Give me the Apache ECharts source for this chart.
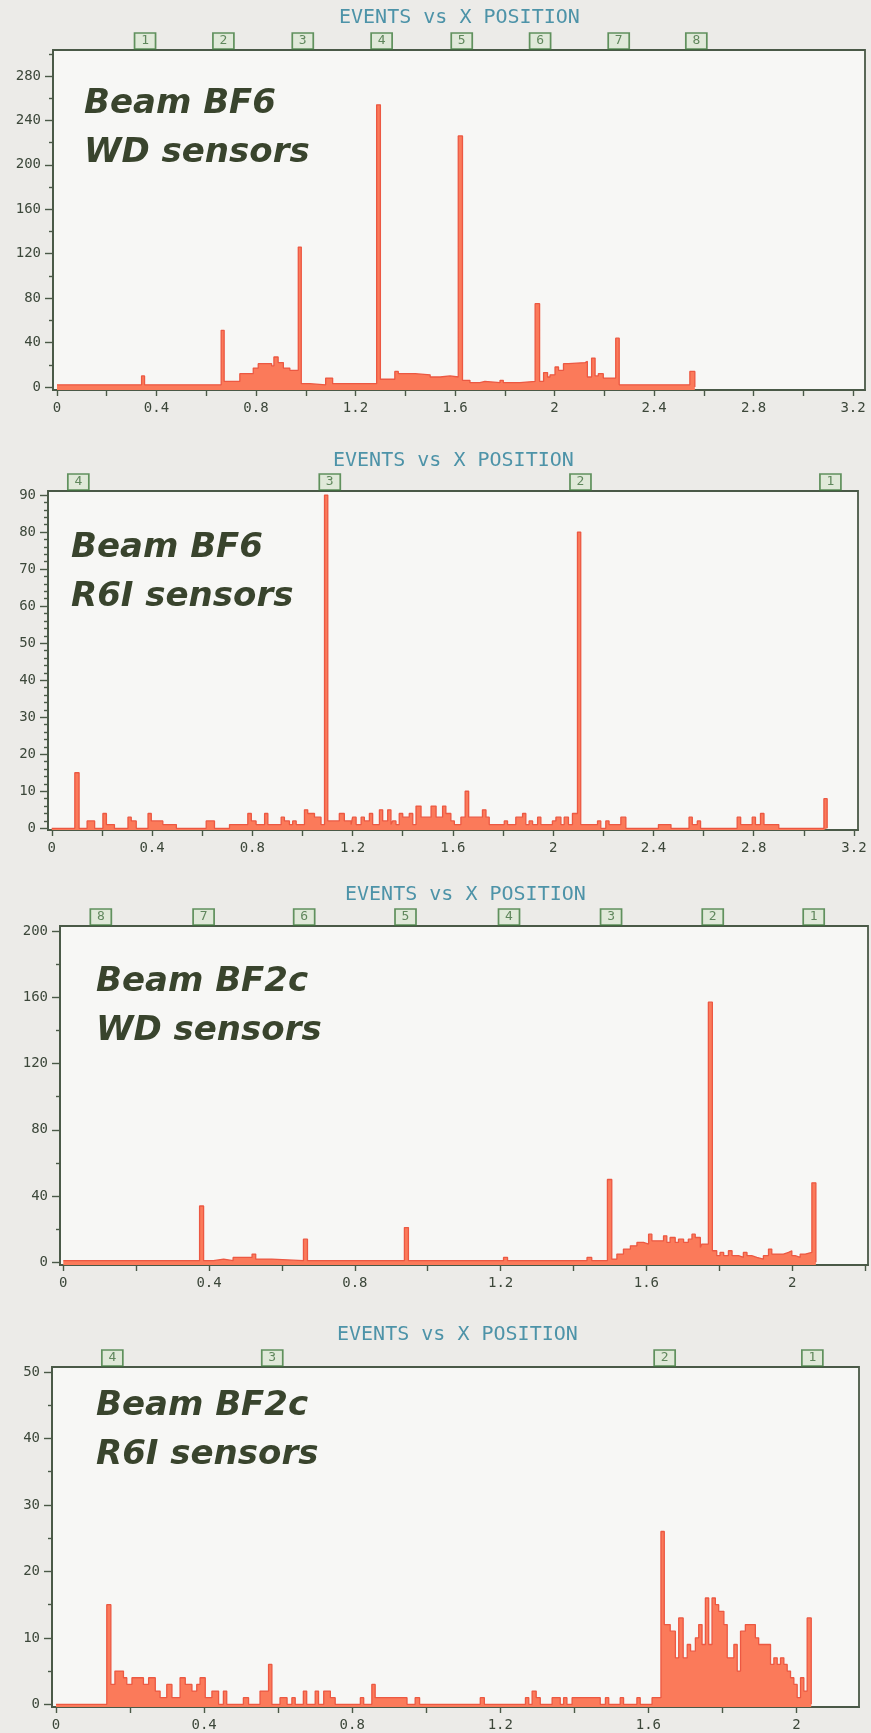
<!DOCTYPE html>
<html>
<head>
<meta charset="utf-8">
<script src="https://cdn.jsdelivr.net/npm/echarts@6/dist/echarts.min.js"></script>
<style>
  html, body { margin: 0; padding: 0; background: #ecebe8; }
  #chart { width: 871px; height: 1733px; }
</style>
</head>
<body>
<div id="chart"></div>
<script>
// ---- Histogram data: each edge starts a bin run; the count holds until the next edge ----

// Beam BF6, WD sensors
const bf6WdEdges = [0.000, 0.340, 0.352, 0.660, 0.672, 0.735, 0.789, 0.809, 0.863, 0.872, 0.889, 0.910, 0.936, 0.970, 0.982,
  1.017, 1.080, 1.108, 1.285, 1.300, 1.358, 1.372, 1.440, 1.500, 1.540, 1.580, 1.613, 1.630, 1.660, 1.700, 1.720, 1.781, 1.794,
  1.861, 1.922, 1.940, 1.956, 1.972, 1.982, 2.002, 2.016, 2.036, 2.056, 2.123, 2.132, 2.149, 2.163, 2.176, 2.196, 2.246, 2.260,
  2.544, 2.564];
const bf6WdCounts = [2, 10, 2, 51, 5, 12, 17, 21, 19, 27, 22, 17, 15, 126, 3,
  2, 8, 3, 254, 7, 14, 12, 11, 9, 10, 9, 226, 6, 4, 5, 4, 6, 4,
  5, 75, 5, 13, 9, 11, 18, 15, 21, 22, 23, 9, 26, 10, 12, 8, 44, 2,
  14, 0];

// Beam BF6, R6I sensors
const bf6R6iEdges = [0.000, 0.092, 0.109, 0.141, 0.171, 0.204, 0.218, 0.250, 0.304, 0.317, 0.337, 0.384, 0.397, 0.443, 0.497,
  0.616, 0.649, 0.709, 0.782, 0.796, 0.815, 0.849, 0.862, 0.915, 0.928, 0.948, 0.961, 0.975, 1.008, 1.021, 1.048, 1.074,
  1.088, 1.101, 1.147, 1.167, 1.194, 1.200, 1.214, 1.234, 1.247, 1.267, 1.280, 1.307, 1.320, 1.340, 1.353, 1.360, 1.373,
  1.386, 1.400, 1.426, 1.440, 1.453, 1.473, 1.513, 1.533, 1.559, 1.572, 1.592, 1.606, 1.632, 1.649, 1.663, 1.718, 1.732,
  1.745, 1.805, 1.818, 1.851, 1.878, 1.891, 1.904, 1.918, 1.938, 1.951, 1.997, 2.011, 2.031, 2.044, 2.061, 2.077, 2.097,
  2.110, 2.177, 2.190, 2.210, 2.223, 2.270, 2.290, 2.420, 2.470, 2.542, 2.555, 2.575, 2.588, 2.734, 2.748, 2.794, 2.807,
  2.827, 2.841, 2.900, 3.080, 3.093];
const bf6R6iCounts = [0, 15, 0, 2, 0, 4, 1, 0, 3, 2, 0, 4, 2, 1, 0,
  2, 0, 1, 4, 2, 1, 4, 1, 3, 2, 1, 2, 1, 5, 4, 3, 1,
  90, 2, 4, 2, 1, 3, 1, 3, 2, 4, 1, 5, 2, 5, 1, 2, 1,
  4, 3, 4, 1, 6, 3, 6, 3, 6, 4, 2, 1, 3, 10, 3, 5, 3,
  1, 2, 1, 3, 4, 1, 2, 1, 3, 1, 2, 3, 1, 3, 1, 4, 80,
  1, 2, 0, 2, 1, 3, 0, 1, 0, 3, 1, 2, 0, 3, 1, 3, 1,
  4, 1, 0, 8, 0];

// Beam BF2c, WD sensors
const bf2cWdEdges = [0.000, 0.374, 0.385, 0.412, 0.440, 0.466, 0.518, 0.528, 0.572, 0.659, 0.670, 0.936, 0.947, 1.208, 1.219,
  1.437, 1.450, 1.493, 1.505, 1.519, 1.537, 1.556, 1.574, 1.592, 1.606, 1.615, 1.647, 1.656, 1.665, 1.679, 1.688, 1.702,
  1.715, 1.725, 1.734, 1.748, 1.752, 1.770, 1.781, 1.793, 1.802, 1.812, 1.825, 1.835, 1.853, 1.866, 1.876, 1.889, 1.903,
  1.921, 1.935, 1.944, 1.976, 1.990, 1.999, 2.008, 2.022, 2.036, 2.054, 2.065];
const bf2cWdCounts = [1, 34, 1, 2, 1, 3, 5, 2, 1, 14, 1, 21, 1, 3, 1,
  3, 1, 50, 2, 5, 8, 10, 12, 11, 17, 13, 16, 12, 15, 12, 14, 12,
  14, 17, 15, 9, 11, 157, 7, 4, 6, 4, 7, 4, 3, 6, 4, 3, 2,
  4, 8, 5, 6, 7, 4, 3, 5, 6, 48, 0];

// Beam BF2c, R6I sensors
const bf2cR6iEdges = [0.000, 0.137, 0.148, 0.159, 0.182, 0.191, 0.205, 0.236, 0.250, 0.268, 0.281, 0.299, 0.313, 0.335, 0.349,
  0.367, 0.380, 0.389, 0.403, 0.421, 0.439, 0.452, 0.461, 0.506, 0.520, 0.551, 0.574, 0.583, 0.605, 0.624, 0.637, 0.646,
  0.668, 0.677, 0.700, 0.709, 0.723, 0.741, 0.754, 0.822, 0.831, 0.853, 0.862, 0.948, 0.970, 0.982, 1.146, 1.157, 1.268,
  1.277, 1.286, 1.297, 1.308, 1.340, 1.362, 1.371, 1.380, 1.394, 1.470, 1.484, 1.493, 1.524, 1.533, 1.569, 1.578, 1.610,
  1.634, 1.643, 1.659, 1.673, 1.682, 1.694, 1.705, 1.714, 1.727, 1.736, 1.745, 1.754, 1.763, 1.772, 1.781, 1.790, 1.804,
  1.813, 1.831, 1.840, 1.849, 1.862, 1.889, 1.898, 1.930, 1.939, 1.948, 1.957, 1.966, 1.975, 1.984, 1.993, 2.002, 2.011,
  2.020, 2.029, 2.040];
const bf2cR6iCounts = [0, 15, 3, 5, 4, 3, 4, 3, 4, 2, 1, 3, 1, 4, 3,
  2, 3, 4, 1, 2, 0, 2, 0, 1, 0, 2, 6, 0, 1, 0, 1, 0,
  2, 0, 2, 0, 2, 1, 0, 1, 0, 3, 1, 0, 1, 0, 1, 0, 1,
  0, 2, 1, 0, 1, 0, 1, 0, 1, 0, 1, 0, 1, 0, 1, 0, 1,
  26, 12, 11, 7, 13, 7, 9, 8, 10, 12, 9, 16, 9, 16, 15, 14, 12,
  7, 9, 5, 11, 12, 10, 9, 6, 7, 6, 7, 6, 5, 4, 3, 1, 4,
  2, 13, 0];

// ---- Sensor markers along the top of each frame ----
const bf6WdSensorX = [0.354, 0.669, 0.988, 1.305, 1.627, 1.942, 2.258, 2.570];
const bf6WdSensorIds = ['1', '2', '3', '4', '5', '6', '7', '8'];
const bf6R6iSensorX = [0.106, 1.109, 2.109, 3.106];
const bf6R6iSensorIds = ['4', '3', '2', '1'];
const bf2cWdSensorX = [0.103, 0.385, 0.661, 0.939, 1.223, 1.503, 1.782, 2.059];
const bf2cWdSensorIds = ['8', '7', '6', '5', '4', '3', '2', '1'];
const bf2cR6iSensorX = [0.152, 0.584, 1.644, 2.043];
const bf2cR6iSensorIds = ['4', '3', '2', '1'];

// ---- Tick and label values ----
const xTicksLong = [0, 0.2, 0.4, 0.6, 0.8, 1.0, 1.2, 1.4, 1.6, 1.8, 2.0, 2.2, 2.4, 2.6, 2.8, 3.0, 3.2];
const xLabelsLong = [0, 0.4, 0.8, 1.2, 1.6, 2, 2.4, 2.8, 3.2];
const xTicksShortWd = [0, 0.2, 0.4, 0.6, 0.8, 1.0, 1.2, 1.4, 1.6, 1.8, 2.0, 2.2];
const xTicksShortR6i = [0, 0.2, 0.4, 0.6, 0.8, 1.0, 1.2, 1.4, 1.6, 1.8, 2.0];
const xLabelsShort = [0, 0.4, 0.8, 1.2, 1.6, 2];

const bf6WdYLabels = [0, 40, 80, 120, 160, 200, 240, 280];
const bf6WdYMinor = [20, 60, 100, 140, 180, 220, 260, 300];
const bf6R6iYLabels = [0, 10, 20, 30, 40, 50, 60, 70, 80, 90];
const bf6R6iYMinor = [2, 4, 6, 8, 12, 14, 16, 18, 22, 24, 26, 28, 32, 34, 36, 38, 42, 44, 46, 48,
  52, 54, 56, 58, 62, 64, 66, 68, 72, 74, 76, 78, 82, 84, 86, 88];
const bf2cWdYLabels = [0, 40, 80, 120, 160, 200];
const bf2cWdYMinor = [20, 60, 100, 140, 180];
const bf2cR6iYLabels = [0, 10, 20, 30, 40, 50];
const bf2cR6iYMinor = [5, 15, 25, 35, 45];

const plotTitle = 'EVENTS vs X POSITION';
const panelCaptions = ['Beam BF6\nWD sensors', 'Beam BF6\nR6I sensors', 'Beam BF2c\nWD sensors', 'Beam BF2c\nR6I sensors'];

// ---- Panel layout (frame placement in pixels and axis extents) ----
const panels = [
  { edges: bf6WdEdges, counts: bf6WdCounts, sx: bf6WdSensorX, sid: bf6WdSensorIds,
    xTicks: xTicksLong, xLabels: xLabelsLong, yLabels: bf6WdYLabels, yMinor: bf6WdYMinor,
    box: { left: 53, top: 50, width: 812, height: 340 }, x: [-0.016, 3.248], y: [-2.7, 303.4],
    titleLeft: 339, titleTop: 8, capLeft: 84, capTop: 80 },
  { edges: bf6R6iEdges, counts: bf6R6iCounts, sx: bf6R6iSensorX, sid: bf6R6iSensorIds,
    xTicks: xTicksLong, xLabels: xLabelsLong, yLabels: bf6R6iYLabels, yMinor: bf6R6iYMinor,
    box: { left: 48, top: 491, width: 810, height: 339 }, x: [-0.015, 3.216], y: [-0.46, 91.1],
    titleLeft: 333, titleTop: 451, capLeft: 71, capTop: 524 },
  { edges: bf2cWdEdges, counts: bf2cWdCounts, sx: bf2cWdSensorX, sid: bf2cWdSensorIds,
    xTicks: xTicksShortWd, xLabels: xLabelsShort, yLabels: bf2cWdYLabels, yMinor: bf2cWdYMinor,
    box: { left: 60, top: 926, width: 808, height: 339 }, x: [-0.009, 2.208], y: [-1.6, 203],
    titleLeft: 345, titleTop: 885, capLeft: 96, capTop: 958 },
  { edges: bf2cR6iEdges, counts: bf2cR6iCounts, sx: bf2cR6iSensorX, sid: bf2cR6iSensorIds,
    xTicks: xTicksShortR6i, xLabels: xLabelsShort, yLabels: bf2cR6iYLabels, yMinor: bf2cR6iYMinor,
    box: { left: 52, top: 1367, width: 807, height: 340 }, x: [-0.011, 2.169], y: [-0.4, 50.75],
    titleLeft: 337, titleTop: 1325, capLeft: 96, capTop: 1382 }
];

const frameColor = '#4a5947';
const labelColor = '#3c473a';
const monoFont = '"DejaVu Sans Mono", "Liberation Mono", monospace';

const grids = [], xAxes = [], yAxes = [], series = [], titles = [];

panels.forEach((p, i) => {
  grids.push(Object.assign({
    show: true, backgroundColor: '#f7f7f5', borderColor: frameColor, borderWidth: 1.8
  }, p.box));

  xAxes.push({
    gridIndex: i, type: 'value', min: p.x[0], max: p.x[1],
    axisLine: { show: true, onZero: false, lineStyle: { color: frameColor, width: 1.8 } },
    axisTick: { show: true, customValues: p.xTicks, length: 6, lineStyle: { color: frameColor, width: 1.4 } },
    axisLabel: { customValues: p.xLabels, margin: 11, color: labelColor, fontFamily: monoFont, fontSize: 14,
      formatter: v => String(v) },
    splitLine: { show: false }
  });

  // Labelled major ticks
  yAxes.push({
    gridIndex: i, type: 'value', position: 'left', min: p.y[0], max: p.y[1],
    axisLine: { show: true, onZero: false, lineStyle: { color: frameColor, width: 1.8 } },
    axisTick: { show: true, customValues: p.yLabels, length: 8, lineStyle: { color: frameColor, width: 1.4 } },
    axisLabel: { customValues: p.yLabels, margin: 12, color: labelColor, fontFamily: monoFont, fontSize: 14 },
    splitLine: { show: false }
  });
  // Short unlabelled ticks in between
  yAxes.push({
    gridIndex: i, type: 'value', position: 'left', min: p.y[0], max: p.y[1],
    axisLine: { show: false, onZero: false },
    axisTick: { show: true, customValues: p.yMinor, length: 4, lineStyle: { color: frameColor, width: 1.4 } },
    axisLabel: { show: false },
    splitLine: { show: false }
  });

  const pts = p.edges.map((x, k) => [x, p.counts[k]]);
  series.push({
    type: 'line', xAxisIndex: i, yAxisIndex: 2 * i, data: pts, step: 'end',
    symbol: 'none', showSymbol: false, silent: true, clip: true,
    lineStyle: { color: '#ec5842', width: 1.3 },
    areaStyle: { color: '#fb7a5a', opacity: 1, origin: 'start' }
  });

  series.push({
    type: 'scatter', xAxisIndex: i, yAxisIndex: 2 * i, clip: false, silent: true, z: 5,
    data: p.sx.map((x, k) => ({ value: [x, p.y[1]], name: p.sid[k] })),
    symbol: 'rect', symbolSize: [21, 16], symbolOffset: [0, -9],
    itemStyle: { color: '#dde8d4', borderColor: '#3f7a3c', borderWidth: 1.5 },
    label: { show: true, position: 'inside', formatter: d => d.name, color: '#3f6e3c',
      fontFamily: monoFont, fontSize: 13 }
  });

  titles.push({
    text: plotTitle, left: p.titleLeft, top: p.titleTop, padding: 0,
    textStyle: { color: '#4d93a8', fontFamily: monoFont, fontSize: 20, fontWeight: 'normal' }
  });
  titles.push({
    text: panelCaptions[i], left: p.capLeft, top: p.capTop, padding: 0,
    textStyle: { color: '#39442d', fontFamily: '"DejaVu Sans", sans-serif', fontSize: 34,
      fontWeight: 'bold', fontStyle: 'italic', lineHeight: 49 }
  });
});

const chart = echarts.init(document.getElementById('chart'), null, { renderer: 'canvas' });
chart.setOption({
  backgroundColor: '#ecebe8',
  animation: false,
  title: titles,
  grid: grids,
  xAxis: xAxes,
  yAxis: yAxes,
  series: series
});
</script>
</body>
</html>
